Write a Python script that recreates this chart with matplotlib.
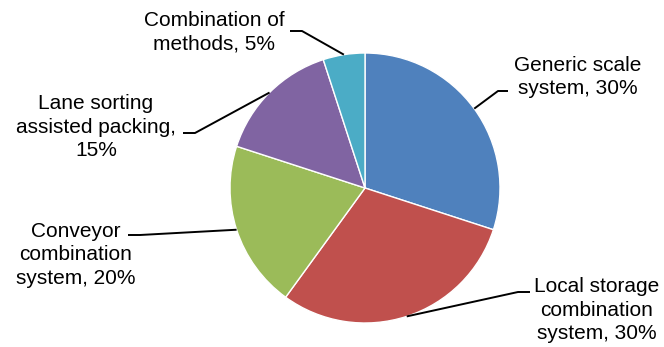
import numpy as np
import matplotlib
matplotlib.use("agg")
import matplotlib.pyplot as plt

labels = ["Generic scale\nsystem, 30%",
          "Local storage\ncombination\nsystem, 30%",
          "Conveyor\ncombination\nsystem, 20%",
          "Lane sorting\nassisted packing,\n15%",
          "Combination of\nmethods, 5%"]
shares = [30, 30, 20, 15, 5]
colors = ["#4F81BD", "#C0504D", "#9BBB59", "#8064A2", "#4BACC6"]

W, H = 664, 347
cx, cy, r = 365, H - 188, 135

# label centre positions and leader elbows (pixels, y from top)
label_pos = [(578, 77), (597, 310), (76, 255), (96, 127), (214, 32)]
elbows = [((498, 91), (508, 91)),
          ((518, 292), (530, 292)),
          ((140, 235), (128, 235)),
          ((195, 133), (183, 133)),
          ((302, 31), (290, 31))]

plt.rcParams["font.family"] = ["Liberation Sans", "DejaVu Sans"]
fig = plt.figure(figsize=(W / 100, H / 100), dpi=100)
ax = fig.add_axes([0, 0, 1, 1])

ax.pie(shares, colors=colors, startangle=90, counterclock=False,
       center=(cx, cy), radius=r, frame=True,
       wedgeprops={"edgecolor": "white", "linewidth": 1})
ax.set_xlim(0, W)
ax.set_ylim(0, H)
ax.set_aspect("equal")
ax.axis("off")

total = sum(shares)
start = 0.0
for lab, share, (lx, ly), (e1, e2) in zip(labels, shares, label_pos, elbows):
    mid = np.deg2rad(start + 360 * share / total / 2)
    start += 360 * share / total
    px, py = cx + r * np.sin(mid), cy + r * np.cos(mid)
    ax.plot([px, e1[0], e2[0]], [py, H - e1[1], H - e2[1]],
            color="black", lw=1.4, solid_capstyle="butt")
    ax.text(lx, H - ly, lab, ha="center", va="center", multialignment="center",
            fontsize=15, linespacing=1.3, color="black")

fig.savefig("out.png", dpi=100)
